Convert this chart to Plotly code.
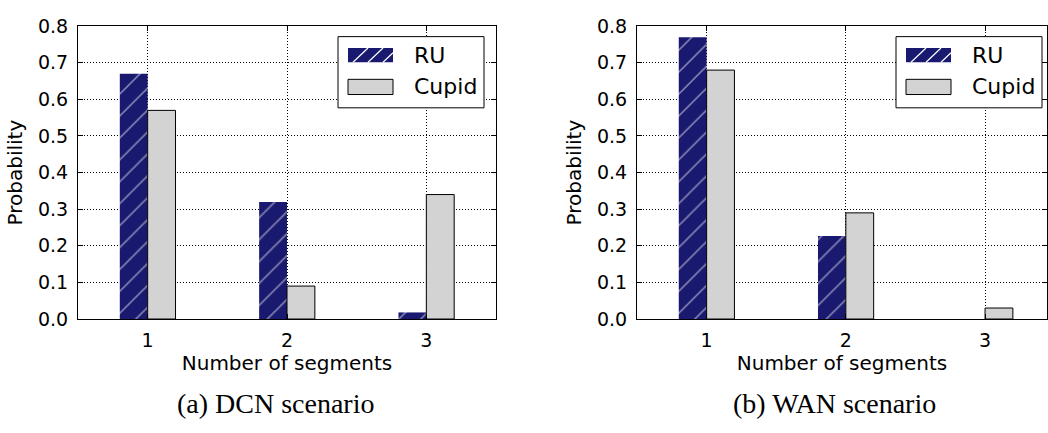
import plotly.graph_objects as go

categories = [1, 2, 3]
dcn_ru = [0.67, 0.32, 0.018]
dcn_cupid = [0.57, 0.09, 0.34]
wan_ru = [0.77, 0.227, 0.0]
wan_cupid = [0.68, 0.29, 0.03]
y_ticks = [0.0, 0.1, 0.2, 0.3, 0.4, 0.5, 0.6, 0.7, 0.8]
series_names = ["RU", "Cupid"]
captions = ["(a) DCN scenario", "(b) WAN scenario"]

NAVY = "#191970"
GRAY = "#d3d3d3"
W, H = 1048, 433

fig = go.Figure()

def add_panel(ru, cupid, xa, ya):
    fig.add_trace(go.Bar(
        x=categories, y=ru, name=series_names[0], xaxis=xa, yaxis=ya, showlegend=False,
        marker=dict(color=NAVY, line=dict(width=0),
                    pattern=dict(shape="/", fgcolor="white", bgcolor=NAVY, size=15.5, solidity=0.1)),
    ))
    fig.add_trace(go.Bar(
        x=categories, y=cupid, name=series_names[1], xaxis=xa, yaxis=ya, showlegend=False,
        marker=dict(color=GRAY, line=dict(color="black", width=1)),
    ))

add_panel(dcn_ru, dcn_cupid, "x", "y")
add_panel(wan_ru, wan_cupid, "x2", "y2")

tickfont = dict(family="DejaVu Sans", size=19, color="black")
titlefont = dict(family="DejaVu Sans", size=20, color="black")
ydom = [1 - 324.5 / H, 1 - 16 / H]

def xaxis(domain, rng):
    return dict(domain=domain, range=rng, tickvals=categories, ticktext=[str(c) for c in categories],
                showline=True, linecolor="black", linewidth=1, mirror="ticks",
                ticks="inside", ticklen=5, tickcolor="black", tickfont=tickfont,
                showgrid=True, gridcolor="black", gridwidth=1, griddash="1px,2px",
                zeroline=False, ticklabelstandoff=4,
                title=dict(text="Number of segments", font=titlefont, standoff=4))

def yaxis(anchor):
    return dict(domain=ydom, range=[0, 0.8], tickvals=y_ticks, tickformat=".1f", anchor=anchor,
                showline=True, linecolor="black", linewidth=1, mirror="ticks",
                ticks="inside", ticklen=5, tickcolor="black", tickfont=tickfont,
                showgrid=True, gridcolor="black", gridwidth=1, griddash="1px,2px",
                zeroline=False, ticklabelstandoff=5,
                title=dict(text="Probability", font=titlefont, standoff=9))

# hand-drawn legend boxes (matplotlib-style wide keys), in pixel units converted to paper
def px(x):
    return x / W

def py(y):
    return 1 - y / H

shapes = []
annotations = []
legend_font = dict(family="DejaVu Sans", size=22, color="black")
for dx in (0, 558):
    shapes.append(dict(type="rect", xref="paper", yref="paper",
                       x0=px(338 + dx), x1=px(484 + dx), y0=py(102), y1=py(27),
                       line=dict(color="black", width=1), fillcolor="white", layer="above"))
    shapes.append(dict(type="rect", xref="paper", yref="paper",
                       x0=px(348 + dx), x1=px(393 + dx), y0=py(54), y1=py(39),
                       line=dict(width=0), fillcolor=NAVY, layer="above"))
    for x0 in (353, 368, 383):
        x1 = min(x0 + 15, 393)
        shapes.append(dict(type="line", xref="paper", yref="paper",
                           x0=px(x0 + dx), y0=py(54), x1=px(x1 + dx), y1=py(54 - (x1 - x0)),
                           line=dict(color="white", width=1.2), layer="above"))
    shapes.append(dict(type="rect", xref="paper", yref="paper",
                       x0=px(348 + dx), x1=px(393 + dx), y0=py(88), y1=py(72),
                       line=dict(color="black", width=1), fillcolor=GRAY, layer="above"))
    annotations.append(dict(text=series_names[0], x=px(412 + dx), y=py(47), xref="paper", yref="paper",
                            xanchor="left", yanchor="middle", showarrow=False, font=legend_font))
    annotations.append(dict(text=series_names[1], x=px(412 + dx), y=py(80), xref="paper", yref="paper",
                            xanchor="left", yanchor="middle", showarrow=False, font=legend_font))

for cx, cap in zip((275, 834), captions):
    annotations.append(dict(text=cap, x=px(cx), y=py(413), xref="paper", yref="paper",
                            xanchor="center", yanchor="middle", showarrow=False,
                            font=dict(family="Liberation Serif", size=28, color="black")))

fig.update_layout(
    width=W, height=H,
    margin=dict(l=0, r=0, t=0, b=0),
    paper_bgcolor="white", plot_bgcolor="white",
    barmode="group", bargap=0.6, bargroupgap=0,
    showlegend=False,
    xaxis=dict(xaxis([78 / W, 496 / W], [0.5, 3.5]), anchor="y"),
    yaxis=yaxis("x"),
    xaxis2=dict(xaxis([637 / W, 1047 / W], [0.5, 3.445]), anchor="y2"),
    yaxis2=yaxis("x2"),
    shapes=shapes,
    annotations=annotations,
)

fig.write_html("out.html")
